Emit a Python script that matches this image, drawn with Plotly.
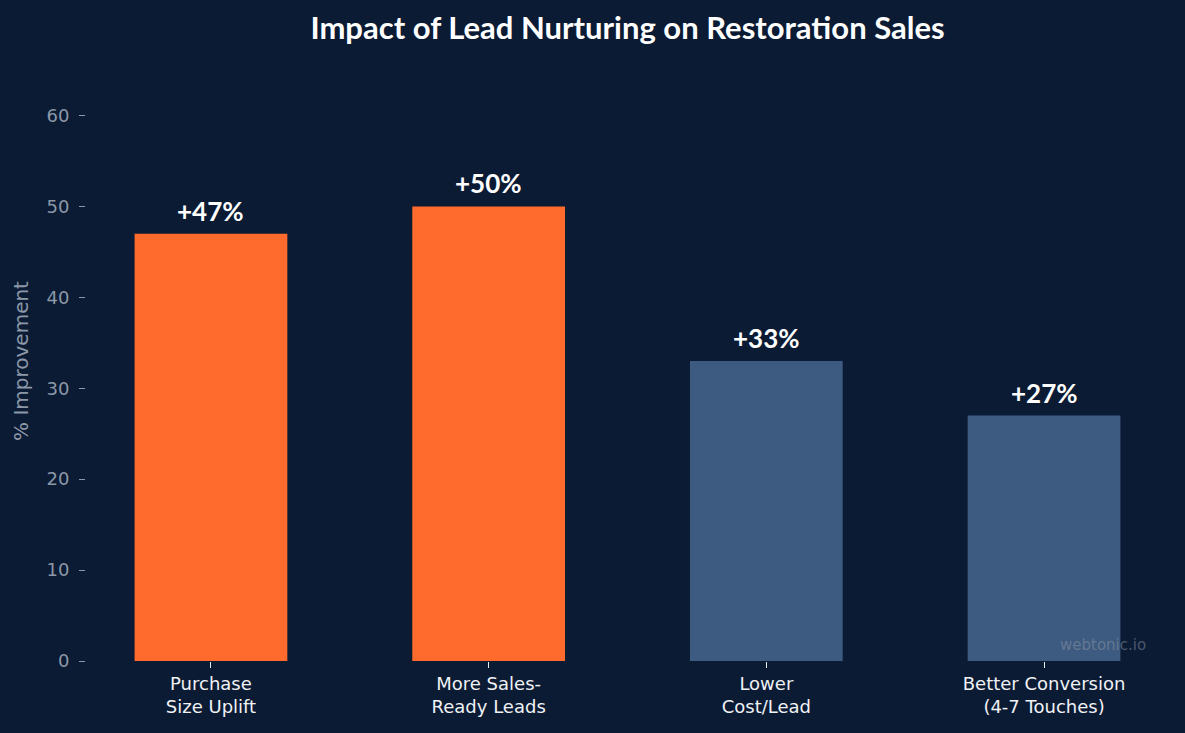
import plotly.graph_objects as go

categories = ["Purchase<br>Size Uplift", "More Sales-<br>Ready Leads", "Lower<br>Cost/Lead", "Better Conversion<br>(4-7 Touches)"]
values = [47, 50, 33, 27]
labels = ["+47%", "+50%", "+33%", "+27%"]
colors = ["#FF6B2C", "#FF6B2C", "#3D5A80", "#3D5A80"]

BG = "#0B1B34"

fig = go.Figure()
fig.add_trace(go.Bar(
    x=categories, y=values, width=0.55,
    marker=dict(color=colors, line=dict(width=0)),
    cliponaxis=False, hoverinfo="skip",
))

for c, v, t in zip(categories, values, labels):
    fig.add_annotation(x=c, y=v, text=f"<b>{t}</b>", showarrow=False,
                       yanchor="bottom", yshift=5,
                       font=dict(family="Lato", size=26, color="white"))

fig.update_layout(
    width=1185, height=733,
    paper_bgcolor=BG, plot_bgcolor=BG,
    margin=dict(l=86, r=16, t=61, b=72),
    showlegend=False,
    title=dict(text="<b>Impact of Lead Nurturing on Restoration Sales</b>",
               xref="paper", x=0.5, xanchor="center", y=0.962, yanchor="middle",
               font=dict(family="Lato", size=31, color="white")),
    xaxis=dict(range=[-0.45, 3.45], showgrid=False, zeroline=False, showline=False,
               ticks="outside", ticklen=6, tickcolor="#E8ECF2", tickwidth=1,
               tickfont=dict(family="DejaVu Sans", size=18, color="#F0F2F5")),
    yaxis=dict(range=[0, 66], showgrid=False, zeroline=False, showline=False,
               tickvals=[0, 10, 20, 30, 40, 50, 60],
               ticks="outside", ticklen=6, tickcolor="#8C98A8", tickwidth=1,
               ticklabelstandoff=6,
               tickfont=dict(family="DejaVu Sans", size=18, color="#8C98A8"),
               title=dict(text="% Improvement", standoff=12,
                          font=dict(family="DejaVu Sans", size=20, color="#8C98A8"))),
)

fig.add_annotation(text="webtonic.io", xref="paper", yref="paper", x=0.9806, y=0.027,
                   xanchor="right", yanchor="middle", showarrow=False,
                   font=dict(family="DejaVu Sans", size=15, color="rgba(140,150,165,0.5)"))

fig.write_html("out.html")
